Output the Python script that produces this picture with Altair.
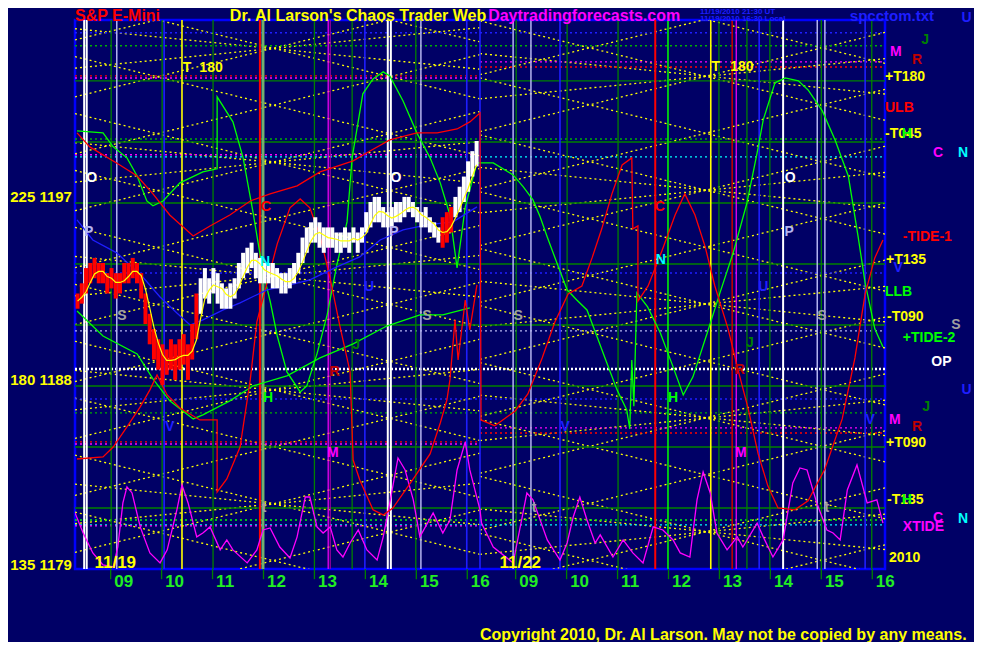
import altair as alt
import pandas as pd

# ---------------------------------------------------------------- time model
H0 = 8.3      # first clock hour visible in each session
SPAN = 7.95   # clock hours visible per session


def sess(day, hour):
    return (day - 1) * SPAN + (hour - H0)


# ---------------------------------------------------------------- price bars (day 1, 5-minute)
bar_first_hour = 8.35
bar_high = [1192.25, 1192.75, 1193.5, 1193.75, 1194.0, 1193.75, 1193.75, 1193.25, 1193.5, 1193.25,
            1193.25, 1193.75, 1193.75, 1194.0, 1193.75, 1193.25, 1192.25, 1191.25, 1190.5, 1190.0,
            1189.75, 1189.5, 1190.0, 1189.75, 1190.0, 1190.25, 1189.75, 1190.75, 1192.25, 1193.0,
            1193.5, 1193.0, 1193.5, 1193.25, 1192.75, 1192.5, 1192.75, 1193.0, 1193.75, 1194.25,
            1194.5, 1194.75, 1194.25, 1194.0, 1193.75, 1193.75, 1193.75, 1193.5, 1193.25, 1193.25,
            1193.5, 1193.75, 1194.25, 1195.0, 1195.5, 1195.75, 1196.0, 1195.75, 1195.5, 1195.5,
            1195.5, 1195.25, 1195.25, 1195.5, 1195.25, 1195.5, 1195.25, 1195.5, 1196.25, 1196.75,
            1197.0, 1197.0, 1196.5, 1196.25, 1196.5, 1196.75, 1196.75, 1197.0, 1197.0, 1196.75,
            1196.5, 1196.25, 1196.5, 1196.0, 1195.75, 1195.5, 1196.0, 1196.25, 1196.5, 1197.0,
            1197.5, 1198.0, 1198.75, 1199.25, 1199.75]
bar_low = [1191.5, 1191.75, 1192.25, 1192.75, 1193.0, 1192.75, 1192.75, 1192.25, 1192.5, 1192.0,
           1192.25, 1192.75, 1192.75, 1193.0, 1192.75, 1192.0, 1190.75, 1189.75, 1189.0, 1188.5,
           1187.75, 1188.25, 1188.5, 1188.0, 1188.5, 1188.75, 1188.0, 1189.0, 1190.0, 1191.25,
           1192.0, 1191.75, 1192.25, 1191.75, 1191.5, 1191.5, 1191.5, 1192.0, 1192.5, 1193.0,
           1193.25, 1193.5, 1193.0, 1192.75, 1192.75, 1192.75, 1192.5, 1192.5, 1192.25, 1192.25,
           1192.5, 1192.75, 1193.25, 1193.75, 1194.25, 1194.75, 1194.75, 1194.5, 1194.25, 1194.5,
           1194.5, 1194.25, 1194.25, 1194.5, 1194.25, 1194.75, 1194.25, 1194.75, 1195.25, 1195.5,
           1195.75, 1195.75, 1195.5, 1195.5, 1195.5, 1195.75, 1195.75, 1196.0, 1196.25, 1196.0,
           1195.75, 1195.5, 1195.5, 1195.25, 1195.0, 1194.75, 1194.5, 1194.75, 1195.25, 1196.0,
           1196.25, 1196.75, 1197.25, 1198.0, 1198.5]
bar_kind = ["down"] * 29 + ["up"] * 57 + ["down"] * 3 + ["up"] * 6

# ---------------------------------------------------------------- blue average (day 1)
blue_hour = [8.34, 8.65, 9.12, 9.63, 9.97, 10.30, 10.56, 10.81, 11.21, 11.54, 12.07, 12.52,
             12.91, 13.44, 13.89, 14.29, 14.74, 15.21, 15.72, 16.19]
blue_price = [1195.87, 1194.88, 1194.25, 1193.06, 1192.08, 1191.29, 1190.70, 1190.95, 1191.44,
              1191.79, 1192.43, 1192.67, 1192.92, 1193.56, 1194.05, 1194.88, 1195.38, 1195.62,
              1195.77, 1196.51]

# ---------------------------------------------------------------- green cycle curve
green_d1_hour = [8.34, 8.85, 9.05, 9.32, 9.52, 9.71, 9.83, 10.03, 10.36, 10.81, 11.09, 11.09,
                 11.40, 11.60, 11.79, 11.99, 12.13, 12.27, 12.46, 12.72, 12.85, 13.05, 13.25,
                 13.44, 13.64, 13.74, 13.95, 14.15, 14.35, 14.48, 14.74, 15.01, 15.27, 15.47,
                 15.66, 15.80, 15.96, 16.19]
green_d1_price = [1200.25, 1200.15, 1199.46, 1198.92, 1198.03, 1196.80, 1196.56, 1196.80,
                  1197.69, 1198.23, 1198.38, 1201.92, 1200.69, 1198.92, 1196.31, 1193.31,
                  1191.88, 1190.16, 1188.39, 1187.41, 1187.70, 1189.28, 1191.20, 1193.66,
                  1195.77, 1198.92, 1202.07, 1202.80, 1203.15, 1202.95, 1201.72, 1200.15,
                  1198.92, 1197.69, 1196.11, 1193.51, 1196.5, 1198.67]
green_d2_hour = [8.30, 8.56, 8.95, 9.15, 9.34, 9.48, 9.62, 9.81, 10.01, 10.20, 10.40, 10.60,
                 10.79, 10.99, 11.18, 11.24, 11.28, 11.32, 11.38, 11.59, 11.84, 12.09, 12.29,
                 12.48, 12.76, 13.01, 13.27, 13.54, 13.74, 13.86, 14.09, 14.29, 14.55, 14.74,
                 15.02, 15.27, 15.53, 15.72, 15.86, 16.05, 16.21]
green_d2_price = [1198.67, 1198.67, 1198.08, 1197.49, 1196.85, 1196.02, 1195.03, 1193.75,
                  1192.43, 1191.93, 1191.44, 1190.11, 1188.83, 1187.51, 1186.52, 1185.59,
                  1188.98, 1186.70, 1192.28, 1191.59, 1190.31, 1188.64, 1187.26, 1188.15,
                  1190.31, 1192.28, 1194.25, 1196.70, 1199.16, 1200.79, 1202.61, 1202.85,
                  1202.71, 1202.26, 1201.23, 1199.80, 1198.03, 1195.08, 1192.77, 1190.51,
                  1189.62]

# lower green curve (day 1)
green_low_hour = [8.34, 8.85, 9.52, 9.83, 10.16, 10.62, 10.81, 11.34, 11.79, 12.46, 13.11,
                  13.76, 14.42, 15.07, 15.52, 16.05]
green_low_price = [1191.39, 1190.16, 1189.28, 1188.05, 1186.97, 1186.08, 1186.28, 1186.97,
                   1187.70, 1188.20, 1189.08, 1189.77, 1190.65, 1191.20, 1191.20, 1191.54]

# ---------------------------------------------------------------- red curves
red_top_d1_hour = [8.34, 8.59, 9.18, 9.52, 9.83, 10.16, 10.62, 10.95, 11.34, 11.74, 12.13,
                   12.66, 13.11, 13.76, 14.09, 14.48, 15.01, 15.41, 15.80, 16.05, 16.25]
red_top_d1_price = [1200.15, 1199.46, 1198.57, 1198.03, 1197.15, 1196.11, 1195.08, 1195.57,
                    1196.11, 1196.80, 1197.15, 1197.54, 1198.23, 1198.77, 1199.26, 1199.80,
                    1200.15, 1200.15, 1200.34, 1200.69, 1201.13]
red_d2_hour = [8.32, 8.59, 8.99, 9.24, 9.52, 9.77, 10.03, 10.30, 10.50, 10.69, 10.89, 11.09,
               11.28, 11.30, 11.40, 11.40, 11.60, 11.87, 12.13, 12.32, 12.52, 12.72, 12.91,
               13.17, 13.36, 13.56, 13.76, 13.95, 14.15, 14.48, 14.74, 15.07, 15.41, 15.66,
               15.86, 16.05, 16.21]
red_d2_price = [1186.03, 1185.74, 1186.47, 1187.31, 1189.08, 1190.85, 1192.23, 1192.62, 1194.0,
                1195.43, 1197.15, 1198.57, 1198.92, 1195.43, 1195.57, 1191.88, 1192.62, 1194.34,
                1196.11, 1197.15, 1196.11, 1194.54, 1192.62, 1190.51, 1188.54, 1186.62, 1184.36,
                1182.79, 1181.70, 1181.61, 1182.05, 1183.62, 1186.08, 1189.08, 1192.23, 1194.0,
                1194.88]
red_low_hour = [8.34, 8.85, 9.05, 9.32, 9.58, 9.77, 9.91, 10.11, 10.36, 10.75, 11.09, 11.09,
                11.28, 11.54, 11.74, 11.87, 12.27, 12.52, 12.72, 12.91, 13.11, 13.31, 13.50,
                13.70, 13.76, 13.89, 14.15, 14.35, 14.54, 14.94, 15.27, 15.47, 15.60, 15.66,
                15.76, 15.82, 15.96, 16.05, 16.19]
red_low_price = [1184.11, 1184.21, 1184.70, 1185.69, 1186.67, 1187.51, 1188.24, 1187.26,
                 1186.62, 1186.03, 1186.03, 1182.49, 1183.13, 1184.70, 1188.0, 1190.85,
                 1194.69, 1196.46, 1196.90, 1196.46, 1195.08, 1192.97, 1190.65, 1188.39,
                 1184.06, 1183.08, 1181.61, 1181.36, 1181.70, 1183.13, 1184.36, 1185.88,
                 1187.01, 1188.0, 1190.95, 1188.98, 1191.93, 1190.46, 1192.67]

# ---------------------------------------------------------------- magenta XTIDE
tide_d1_hour = [8.30, 8.46, 8.65, 8.85, 9.05, 9.14, 9.24, 9.32, 9.42, 9.58, 9.77, 9.97, 10.11,
                10.30, 10.40, 10.52, 10.69, 10.81, 10.95, 11.15, 11.28, 11.40, 11.68, 11.87,
                11.99, 12.13, 12.32, 12.52, 12.66, 12.82, 12.91, 13.05, 13.17, 13.31, 13.44,
                13.56, 13.70, 13.86, 14.03, 14.23, 14.35, 14.48, 14.64, 14.78, 14.94, 15.07,
                15.33, 15.52, 15.66, 15.80, 15.96, 16.05, 16.25]
tide_d1_price = [1181.46, 1180.47, 1179.49, 1178.90, 1178.80, 1179.78, 1181.95, 1182.74,
                 1182.44, 1180.77, 1179.49, 1179.0, 1179.64, 1181.61, 1182.83, 1181.95, 1180.28,
                 1180.47, 1180.77, 1179.64, 1180.13, 1179.64, 1179.0, 1179.64, 1180.62, 1180.72,
                 1179.78, 1179.24, 1180.28, 1182.24, 1182.24, 1180.77, 1180.47, 1180.77,
                 1179.64, 1179.29, 1179.98, 1180.62, 1179.64, 1179.14, 1180.28, 1181.95,
                 1184.16, 1183.57, 1182.10, 1180.28, 1181.46, 1180.47, 1181.11, 1183.57,
                 1184.95, 1183.57, 1181.61]
tide_d2_hour = [8.33, 8.56, 8.95, 9.09, 9.22, 9.34, 9.62, 9.87, 10.01, 10.13, 10.26, 10.40,
                10.56, 10.66, 10.91, 11.11, 11.30, 11.50, 11.70, 11.89, 12.09, 12.23, 12.42,
                12.56, 12.68, 12.82, 12.95, 13.15, 13.35, 13.46, 13.74, 13.86, 14.05, 14.25,
                14.44, 14.58, 14.72, 14.91, 15.11, 15.23, 15.37, 15.51, 15.70, 15.90, 16.09,
                16.21]
tide_d2_price = [1180.96, 1179.78, 1179.0, 1180.77, 1182.44, 1182.10, 1180.13, 1179.14,
                 1179.98, 1181.26, 1182.24, 1181.11, 1179.98, 1180.38, 1179.29, 1180.13,
                 1179.49, 1179.0, 1180.77, 1180.62, 1180.13, 1179.49, 1179.29, 1182.10,
                 1183.47, 1182.44, 1180.47, 1179.64, 1180.28, 1179.78, 1180.96, 1180.28,
                 1179.29, 1180.13, 1182.93, 1183.67, 1183.57, 1181.95, 1180.62, 1180.47,
                 1180.13, 1182.59, 1183.82, 1181.95, 1182.10, 1180.96]

# ---------------------------------------------------------------- yellow time/price lattice
# each line runs across one session: price at session start -> price at session end
lat_day = [1] * 22 + [2] * 22 + [1] * 10 + [2] * 10
lat_start = [1204.72, 1201.92, 1199.12, 1196.32, 1193.52, 1190.72, 1187.92, 1185.12, 1182.32,
             1179.52, 1176.72,
             1209.50, 1206.70, 1203.90, 1201.10, 1198.30, 1195.50, 1192.70, 1189.90, 1187.10,
             1184.30, 1181.50,
             1175.01, 1177.81, 1180.61, 1183.41, 1186.21, 1189.01, 1191.81, 1194.61, 1197.41,
             1200.21, 1203.01,
             1208.45, 1205.65, 1202.85, 1200.05, 1197.25, 1194.45, 1191.65, 1188.85, 1186.05,
             1183.25, 1180.45,
             1203.33, 1205.27, 1197.73, 1199.67, 1192.13, 1194.07, 1186.53, 1188.47, 1180.93,
             1182.87,
             1201.82, 1204.05, 1196.22, 1198.45, 1190.62, 1192.85, 1185.02, 1187.25, 1179.42,
             1181.65]
lat_end = [1209.60, 1206.80, 1204.00, 1201.20, 1198.40, 1195.60, 1192.80, 1190.00, 1187.20,
           1184.40, 1181.60,
           1204.62, 1201.82, 1199.02, 1196.22, 1193.42, 1190.62, 1187.82, 1185.02, 1182.22,
           1179.42, 1176.62,
           1179.89, 1182.69, 1185.49, 1188.29, 1191.09, 1193.89, 1196.69, 1199.49, 1202.29,
           1205.09, 1207.89,
           1203.57, 1200.77, 1197.97, 1195.17, 1192.37, 1189.57, 1186.77, 1183.97, 1181.17,
           1178.37, 1175.57,
           1205.32, 1203.28, 1199.72, 1197.68, 1194.12, 1192.08, 1188.52, 1186.48, 1182.92,
           1180.88,
           1203.80, 1202.06, 1198.20, 1196.46, 1192.60, 1190.86, 1187.00, 1185.26, 1181.40,
           1179.66]

# ---------------------------------------------------------------- horizontal levels
hl_price = [1205.07, 1204.43, 1202.71, 1199.70, 1196.70, 1193.70, 1190.70, 1187.70, 1184.70,
            1181.70, 1199.85, 1198.97, 1193.26, 1190.41, 1188.54, 1187.06, 1186.38, 1181.11,
            1180.87, 1202.95, 1202.85, 1199.07, 1184.95, 1184.85, 1180.82, 1203.64, 1203.39,
            1185.64, 1185.39]
hl_kind = ["blue", "green_dot", "green", "green", "green", "green", "green", "green", "green",
           "green", "green_dot", "cyan", "blue", "lavender", "white", "blue", "green_dot",
           "lime", "cyan", "red", "magenta", "magenta", "red", "magenta", "magenta", "magenta",
           "red", "magenta", "red"]
hl_days = ["both"] * 19 + ["d1"] * 6 + ["d2"] * 4

# ---------------------------------------------------------------- vertical time lines
vl_day = [1] * 21 + [2] * 21
vl_hour = [8.48, 8.53, 9.01, 9.12, 10.01, 10.05, 10.40, 11.01, 11.93, 11.99, 13.0, 13.27,
           13.31, 13.74, 13.99, 14.44, 14.50, 14.99, 15.09, 15.99, 16.25,
           8.95, 9.01, 9.30, 9.87, 10.01, 11.01, 11.74, 11.99, 12.83, 12.99, 13.25, 13.33,
           13.54, 13.78, 13.99, 14.25, 14.92, 15.0, 15.07, 15.86, 15.99]
vl_kind = ["white", "white", "green", "lavender", "green", "blue", "yellow", "green", "red",
           "graygreen", "green", "magenta", "purple", "green", "blue", "white", "white",
           "green", "lavender", "blue", "blue",
           "lavender", "green", "lavender", "blue", "green", "green", "red", "lime", "yellow",
           "green", "darkred", "magenta", "green", "blue", "green", "white", "lavender",
           "green", "lavender", "blue", "green"]

# ---------------------------------------------------------------- x-axis hours
tick_hours = [9, 10, 11, 12, 13, 14, 15, 16]
tick_labels = ["09", "10", "11", "12", "13", "14", "15", "16"]
day_labels = ["11/19", "11/22"]

# ---------------------------------------------------------------- chart letters (day, hour, price)
pt_text = ["O", "P", "S", "T", "180", "C", "N", "U", "J", "R", "H", "V", "M", "O", "P", "S", "t",
           "S", "t", "V", "C", "N", "H", "T", "180", "R", "M", "J", "U", "O", "P", "S", "t", "V"]
pt_day = [1] * 17 + [2] * 17
pt_hour = [8.63, 8.57, 9.22, 10.50, 10.97, 12.05, 12.03, 14.07, 13.82, 13.40, 12.09, 10.16,
           13.36, 14.60, 14.56, 15.21, 12.01,
           9.05, 9.36, 9.97, 11.83, 11.85, 12.09, 12.93, 13.44, 13.40, 13.42, 13.60, 13.86,
           14.39, 14.37, 15.01, 15.11, 15.96]
pt_price = [1197.93, 1195.28, 1191.15, 1203.35, 1203.35, 1196.51, 1193.80, 1192.57, 1189.72,
            1188.39, 1187.11, 1185.69, 1184.41, 1197.93, 1195.28, 1191.15, 1181.70,
            1191.15, 1181.70, 1185.69, 1196.51, 1193.90, 1187.11, 1203.39, 1203.39, 1188.49,
            1184.41, 1189.82, 1192.57, 1197.93, 1195.28, 1191.15, 1181.70, 1186.03]
pt_kind = ["white", "lavender", "gray", "yellow", "yellow", "red", "cyan", "blue", "darkgreen",
           "darkred", "lime", "blue", "magenta", "white", "lavender", "gray", "gray",
           "gray", "gray", "blue", "red", "cyan", "lime", "yellow", "yellow", "darkred",
           "magenta", "darkgreen", "blue", "white", "lavender", "gray", "gray", "blue"]

# ---------------------------------------------------------------- right-hand legend (session-2 clock hours)
rt_text = ["U", "J", "M", "R", "+T180", "ULB", "-T045", "H", "C", "N", "-TIDE-1", "+T135", "V",
           "LLB", "-T090", "S", "+TIDE-2", "OP", "U", "J", "M", "R", "+T090", "-T135", "H",
           "C", "XTIDE", "N", "2010"]
rt_hour = [17.85, 17.04, 16.35, 16.88, 16.25, 16.25, 16.25, 16.68, 17.29, 17.78, 16.60, 16.27,
           16.51, 16.25, 16.29, 17.64, 16.60, 17.16, 17.85, 17.06, 16.33, 16.88, 16.27, 16.29,
           16.68, 17.29, 16.60, 17.78, 16.33]
rt_price = [1205.80, 1204.72, 1204.13, 1203.74, 1202.90, 1201.38, 1200.10, 1200.10, 1199.16,
            1199.16, 1195.03, 1193.90, 1193.51, 1192.33, 1191.10, 1190.70, 1190.06, 1188.88,
            1187.51, 1186.67, 1186.03, 1185.69, 1184.90, 1182.10, 1182.10, 1181.21, 1180.77,
            1181.16, 1179.24]
rt_kind = ["blue", "darkgreen", "magenta", "darkred", "yellow", "red", "yellow", "lime",
           "magenta", "cyan", "red", "yellow", "blue", "lime", "yellow", "gray", "lime",
           "white", "blue", "darkgreen", "magenta", "darkred", "yellow", "yellow", "lime",
           "magenta", "magenta", "cyan", "yellow"]
rt_align = ["center", "center", "left", "center", "left", "left", "left", "center", "center",
            "center", "left", "left", "center", "left", "left", "center", "left", "left",
            "center", "center", "left", "center", "left", "left", "center", "center", "left",
            "center", "left"]

# price scale labels on the left
left_labels = ["225 1197", "180 1188", "135 1179"]
left_prices = [1197.0, 1188.0, 1178.9]

# header / footer
head_text = ["S&P E-Mini", "Dr. Al Larson's Chaos Trader Web", "Daytradingforecasts.com",
             "11/19/2010 21:30 UT", "11/19/2010 16:30 Local", "spcctom.txt",
             "Copyright 2010, Dr. Al Larson. May not be copied by any means."]
head_day = [1, 1, 2, 2, 2, 2, 2]
head_hour = [8.30, 11.34, 8.46, 12.62, 12.62, 15.56, 8.30]
head_price = [1205.89, 1205.89, 1205.89, 1206.09, 1205.73, 1205.90, 1175.45]
head_kind = ["red", "yellow", "magenta", "blue", "blue", "blue", "yellow"]
head_size = ["big", "big", "big", "small", "small", "mid", "foot"]

# ---------------------------------------------------------------- styles
COL = {"white": "#FFFFFF", "lavender": "#B4B4F0", "gray": "#A0A0A0", "yellow": "#FFFF00",
       "red": "#FF0000", "cyan": "#00FFFF", "blue": "#1E1EFF", "darkgreen": "#008000",
       "darkred": "#C00000", "lime": "#00FF00", "magenta": "#FF00FF", "green": "#008000",
       "green_dot": "#00B000", "graygreen": "#70B070", "purple": "#A000A0",
       "up": "#FFFFFF", "down": "#FF0000"}
VW = {"white": 2, "green": 1.3, "lavender": 1.5, "blue": 1.6, "yellow": 1.6, "red": 2,
      "graygreen": 3, "magenta": 1.2, "purple": 1.2, "lime": 1.5, "darkred": 1.6}
BG = "#000066"
SANS = "Liberation Sans, Arial, sans-serif"

xs = alt.Scale(domain=[0, 2 * SPAN], nice=False, zero=False)
ys = alt.Scale(domain=[1178.7, 1205.7], nice=False, zero=False)


def X(f="t"):
    return alt.X(f"{f}:Q", scale=xs, axis=None)


def Y(f="p"):
    return alt.Y(f"{f}:Q", scale=ys, axis=None)


# ---------------------------------------------------------------- frames
lat_df = pd.DataFrame({
    "t": [sess(d, H0) for d in lat_day],
    "t2": [sess(d, H0) + SPAN for d in lat_day],
    "p": lat_start, "p2": lat_end})

rng = {"both": (0, 2 * SPAN), "d1": (0, SPAN), "d2": (SPAN, 2 * SPAN)}
hl_df = pd.DataFrame({
    "p": hl_price,
    "t": [rng[d][0] for d in hl_days],
    "t2": [rng[d][1] for d in hl_days],
    "color": [COL[k] for k in hl_kind],
    "kind": hl_kind})
hl_solid = hl_df[hl_df["kind"] == "green"]
hl_white = hl_df[hl_df["kind"] == "white"]
hl_dot = hl_df[~hl_df["kind"].isin(["green", "white"])]

vl_df = pd.DataFrame({
    "t": [sess(d, h) for d, h in zip(vl_day, vl_hour)],
    "color": [COL[k] for k in vl_kind],
    "w": [VW[k] for k in vl_kind]})

bars_df = pd.DataFrame({
    "t": [sess(1, bar_first_hour + i / 12) for i in range(len(bar_high))],
    "hi": bar_high, "lo": bar_low,
    "color": [COL[k] for k in bar_kind]})


def series(name, color, parts, width=1.3):
    rows = []
    for day, hours, prices in parts:
        for h, p in zip(hours, prices):
            rows.append({"s": name, "t": sess(day, h), "p": p, "o": len(rows),
                         "color": color, "w": width})
    return rows


curve_rows = []
curve_rows += series("tide", COL["magenta"], [(1, tide_d1_hour, tide_d1_price),
                                              (2, tide_d2_hour, tide_d2_price)])
curve_rows += series("glow", COL["lime"], [(1, green_low_hour, green_low_price)])
curve_rows += series("green", COL["lime"], [(1, green_d1_hour, green_d1_price),
                                            (2, green_d2_hour, green_d2_price)])
curve_rows += series("redtop", COL["red"], [(1, red_top_d1_hour, red_top_d1_price),
                                            (2, red_d2_hour, red_d2_price)])
curve_rows += series("redlow", COL["red"], [(1, red_low_hour, red_low_price)])
curve_rows += series("blue", "#1E1EFF", [(1, blue_hour, blue_price)], 1.5)
curves_df = pd.DataFrame(curve_rows)

tick_df = pd.DataFrame({
    "t": [sess(d, h) for d in (1, 2) for h in tick_hours],
    "tl": [sess(d, h) + 0.07 for d in (1, 2) for h in tick_hours],
    "label": tick_labels * 2,
    "p": 1178.7, "p2": 1178.2, "pl": 1178.15})

day_df = pd.DataFrame({"t": [sess(1, 9.09), sess(2, 9.09)], "p": [1179.0, 1179.0],
                       "label": day_labels})

pt_df = pd.DataFrame({
    "t": [sess(d, h) for d, h in zip(pt_day, pt_hour)],
    "p": pt_price, "label": pt_text, "color": [COL[k] for k in pt_kind]})

rt_df = pd.DataFrame({
    "t": [sess(2, h) for h in rt_hour], "p": rt_price, "label": rt_text,
    "color": [COL[k] for k in rt_kind], "al": rt_align})

left_df = pd.DataFrame({"t": [sess(1, 8.24)] * 3, "p": left_prices, "label": left_labels})

head_df = pd.DataFrame({
    "t": [sess(d, h) for d, h in zip(head_day, head_hour)], "p": head_price,
    "label": head_text, "color": [COL[k] for k in head_kind], "sz": head_size})

# ---------------------------------------------------------------- layers
layers = []

layers.append(alt.Chart(lat_df).mark_rule(color="#FFFF00", strokeWidth=1.3, strokeDash=[2, 3],
                                         clip=True).encode(
    x=X(), x2="t2:Q", y=Y(), y2="p2:Q"))

layers.append(alt.Chart(hl_dot).mark_rule(strokeWidth=1.4, strokeDash=[2, 3]).encode(
    x=X(), x2="t2:Q", y=Y(), color=alt.Color("color:N", scale=None)))
layers.append(alt.Chart(hl_white).mark_rule(strokeWidth=2.5, strokeDash=[2, 2]).encode(
    x=X(), x2="t2:Q", y=Y(), color=alt.Color("color:N", scale=None)))
layers.append(alt.Chart(hl_solid).mark_rule(strokeWidth=1.3).encode(
    x=X(), x2="t2:Q", y=Y(), color=alt.Color("color:N", scale=None)))

layers.append(alt.Chart(vl_df).mark_rule().encode(
    x=X(), color=alt.Color("color:N", scale=None),
    strokeWidth=alt.StrokeWidth("w:Q", scale=None)))

layers.append(alt.Chart(curves_df).mark_line(clip=True, strokeWidth=1.3).encode(
    x=X(), y=Y(), detail="s:N", order="o:Q", color=alt.Color("color:N", scale=None),
    strokeWidth=alt.StrokeWidth("w:Q", scale=None)))

layers.append(alt.Chart(bars_df).mark_rule(strokeWidth=4).encode(
    x=X(), y=Y("lo"), y2="hi:Q", color=alt.Color("color:N", scale=None)))

layers.append(alt.Chart(bars_df).transform_calculate(mid="(datum.hi + datum.lo) / 2")
              .transform_window(ma="mean(mid)", frame=[-2, 0], sort=[{"field": "t"}])
              .mark_line(color="#FFFF00", strokeWidth=1.2).encode(x=X(), y=Y("ma")))

# axis ticks and labels
layers.append(alt.Chart(tick_df).mark_rule(color="#008000", strokeWidth=1.3).encode(
    x=X(), y=Y(), y2="p2:Q"))
layers.append(alt.Chart(tick_df).mark_text(align="left", baseline="middle", fontSize=17,
                                          fontWeight="bold", font=SANS, color="#22EE22",
                                          dy=2).encode(x=X("tl"), y=Y("pl"), text="label:N"))
layers.append(alt.Chart(day_df).mark_text(align="center", baseline="middle", fontSize=17,
                                         fontWeight="bold", font=SANS,
                                         color="#FFFF00").encode(x=X(), y=Y(), text="label:N"))

layers.append(alt.Chart(pt_df).mark_text(align="center", baseline="middle", fontSize=14,
                                        fontWeight="bold", font=SANS).encode(
    x=X(), y=Y(), text="label:N", color=alt.Color("color:N", scale=None)))

for al in ("left", "center"):
    layers.append(alt.Chart(rt_df[rt_df["al"] == al]).mark_text(
        align=al, baseline="middle", fontSize=14, fontWeight="bold", font=SANS).encode(
        x=X(), y=Y(), text="label:N", color=alt.Color("color:N", scale=None)))

layers.append(alt.Chart(left_df).mark_text(align="right", baseline="middle", fontSize=15,
                                          fontWeight="bold", font=SANS,
                                          color="#FFFF00").encode(x=X(), y=Y(), text="label:N"))

head_style = {"big": 16, "small": 8, "mid": 15, "foot": 16}
for key, fs in head_style.items():
    layers.append(alt.Chart(head_df[head_df["sz"] == key]).mark_text(
        align="left", baseline="middle", fontSize=fs, fontWeight="bold", font=SANS).encode(
        x=X(), y=Y(), text="label:N", color=alt.Color("color:N", scale=None)))

chart = alt.layer(*layers).properties(
    width=810, height=549,
    autosize=alt.AutoSizeParams(type="none"),
    padding={"left": 67, "top": 12, "right": 89, "bottom": 73},
    background=BG,
).configure_view(stroke="#0000FF", strokeWidth=2.5, fill=BG)

chart.save("out.html", embed_options={"renderer": "svg", "actions": False})
